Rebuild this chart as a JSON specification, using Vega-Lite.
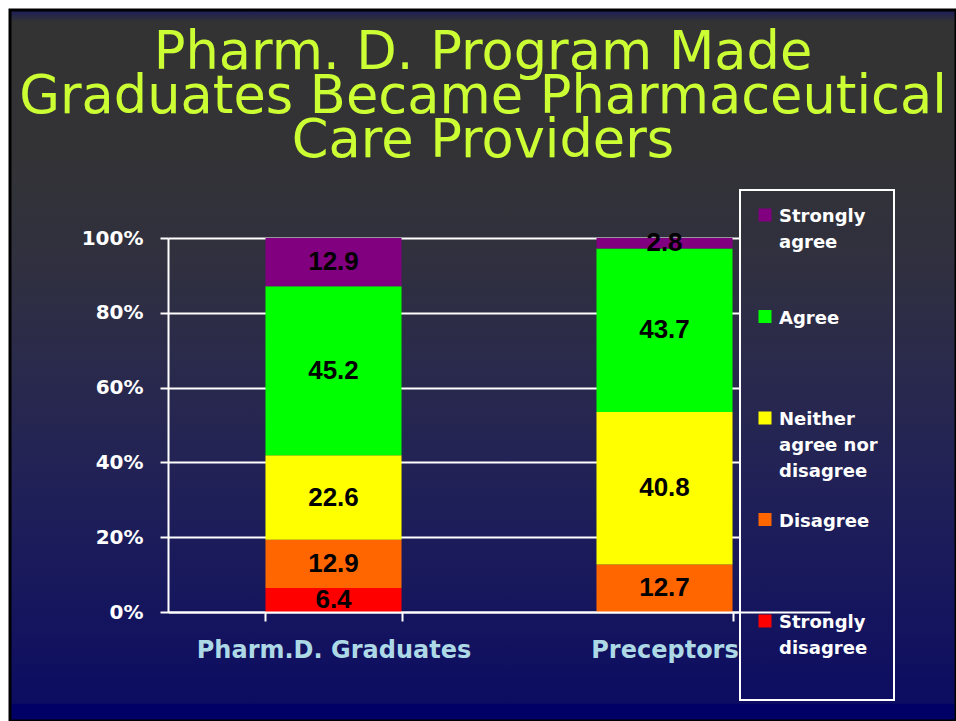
{
  "$schema": "https://vega.github.io/schema/vega-lite/v6.json",
  "width": 946,
  "height": 711,
  "autosize": {"type": "none"},
  "padding": {"left": 10, "top": 10, "right": 0, "bottom": 0},
  "background": "white",
  "title": {
    "text": ["Pharm. D. Program Made", "Graduates Became Pharmaceutical", "Care Providers"],
    "font": "DejaVu Sans",
    "fontSize": 52.6,
    "fontWeight": "normal",
    "color": "#ccff33",
    "lineHeight": 44,
    "anchor": "middle",
    "frame": "group",
    "baseline": "alphabetic",
    "offset": -200
  },
  "data": {
    "values": [
      {"group": "Pharm.D. Graduates", "response": "Strongly disagree", "rank": 1, "value": 6.4},
      {"group": "Pharm.D. Graduates", "response": "Disagree", "rank": 2, "value": 12.9},
      {"group": "Pharm.D. Graduates", "response": "Neither agree nor disagree", "rank": 3, "value": 22.6},
      {"group": "Pharm.D. Graduates", "response": "Agree", "rank": 4, "value": 45.2},
      {"group": "Pharm.D. Graduates", "response": "Strongly agree", "rank": 5, "value": 12.9},
      {"group": "Preceptors", "response": "Disagree", "rank": 2, "value": 12.7},
      {"group": "Preceptors", "response": "Neither agree nor disagree", "rank": 3, "value": 40.8},
      {"group": "Preceptors", "response": "Agree", "rank": 4, "value": 43.7},
      {"group": "Preceptors", "response": "Strongly agree", "rank": 5, "value": 2.8}
    ]
  },
  "layer": [
    {
      "mark": {"type": "bar"},
      "encoding": {
        "x": {
          "field": "group",
          "type": "nominal",
          "sort": ["Pharm.D. Graduates", "Preceptors"],
          "scale": {"range": [158, 820], "paddingInner": 0.589, "paddingOuter": 0.2945},
          "axis": {
            "title": null,
            "offset": -109,
            "zindex": 1,
            "tickBand": "extent",
            "grid": false,
            "domainColor": "white",
            "domainWidth": 2,
            "tickColor": "white",
            "tickWidth": 2,
            "tickSize": 9,
            "labelColor": "#add8e6",
            "labelFont": "DejaVu Sans",
            "labelFontSize": 24,
            "labelFontWeight": "bold",
            "labelPadding": 17,
            "labelLimit": 500,
            "labelAngle": 0
          }
        },
        "y": {
          "field": "value",
          "type": "quantitative",
          "stack": "zero",
          "scale": {"domain": [0, 100], "range": [602, 228], "nice": false},
          "axis": {
            "title": null,
            "values": [0, 20, 40, 60, 80, 100],
            "labelExpr": "datum.value + '%'",
            "offset": -158,
            "zindex": 0,
            "grid": true,
            "gridColor": "white",
            "gridWidth": 2,
            "gridOpacity": 1,
            "domainColor": "white",
            "domainWidth": 2,
            "tickColor": "white",
            "tickWidth": 2,
            "tickSize": 8,
            "labelColor": "white",
            "labelFont": "DejaVu Sans",
            "labelFontSize": 20,
            "labelFontWeight": "bold",
            "labelPadding": 17
          }
        },
        "color": {
          "field": "response",
          "type": "nominal",
          "scale": {
            "domain": ["Strongly agree", "Agree", "Neither agree nor disagree", "Disagree", "Strongly disagree"],
            "range": ["#800080", "#00ff00", "#ffff00", "#ff6600", "#ff0000"]
          },
          "legend": {
            "title": null,
            "orient": "none",
            "legendX": 730,
            "legendY": 180,
            "direction": "vertical",
            "symbolType": "square",
            "symbolSize": 169,
            "symbolStrokeWidth": 0,
            "labelColor": "white",
            "labelFont": "DejaVu Sans",
            "labelFontSize": 18,
            "labelFontWeight": "bold",
            "labelLimit": 200,
            "labelOffset": 5,
            "labelBaseline": "top",
            "gridAlign": "all",
            "rowPadding": 29.5,
            "padding": 16,
            "labelExpr": "datum.label == 'Strongly agree' ? ['Strongly','agree'] : datum.label == 'Neither agree nor disagree' ? ['Neither','agree nor','disagree'] : datum.label == 'Strongly disagree' ? ['Strongly','disagree',''] : datum.label",
            "encode": {
              "labels": {"update": {"dy": {"value": -7}, "lineHeight": {"value": 26}}},
              "legend": {"update": {
                "stroke": {"value": "white"},
                "strokeWidth": {"value": 2},
                "fill": {"value": {
                  "gradient": "linear", "x1": 0, "y1": 0, "x2": 0, "y2": 1,
                  "stops": [
                    {"offset": 0, "color": "#32323a"},
                    {"offset": 0.135, "color": "#30303f"},
                    {"offset": 0.344, "color": "#2a2a4c"},
                    {"offset": 0.596, "color": "#202058"},
                    {"offset": 0.833, "color": "#15155e"},
                    {"offset": 1, "color": "#0d0d62"}
                  ]
                }}
              }}
            }
          }
        },
        "order": {"field": "rank", "type": "quantitative", "sort": "ascending"}
      }
    },
    {
      "mark": {"type": "text", "font": "Liberation Sans", "fontSize": 26, "fontWeight": "bold", "color": "black", "baseline": "middle"},
      "encoding": {
        "x": {"field": "group", "type": "nominal", "sort": ["Pharm.D. Graduates", "Preceptors"]},
        "y": {"field": "value", "type": "quantitative", "stack": "zero", "bandPosition": 0.5},
        "text": {"field": "value", "type": "quantitative", "format": ".1f"},
        "detail": {"field": "response"},
        "order": {"field": "rank", "type": "quantitative", "sort": "ascending"}
      }
    }
  ],
  "config": {
    "view": {
      "fill": {
        "gradient": "linear", "x1": 0, "y1": 0, "x2": 0, "y2": 1,
        "stops": [
          {"offset": 0, "color": "#1c1c5c"},
          {"offset": 0.017, "color": "#333333"},
          {"offset": 0.2, "color": "#333336"},
          {"offset": 0.35, "color": "#30303f"},
          {"offset": 0.5, "color": "#2a2a4c"},
          {"offset": 0.68, "color": "#202058"},
          {"offset": 0.85, "color": "#15155e"},
          {"offset": 0.975, "color": "#0c0c62"},
          {"offset": 0.977, "color": "#000066"},
          {"offset": 1, "color": "#000066"}
        ]
      },
      "stroke": "black",
      "strokeWidth": 3
    }
  }
}
